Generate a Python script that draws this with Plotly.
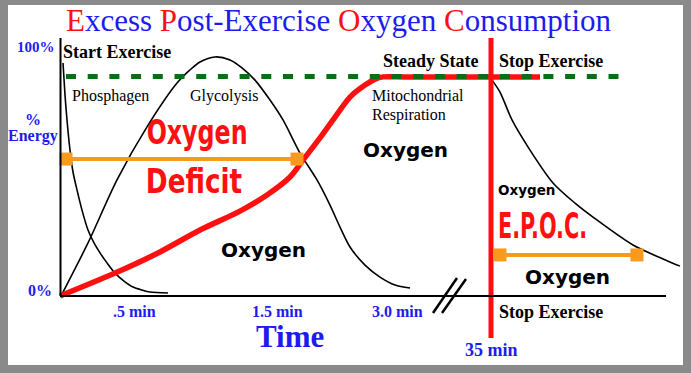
import plotly.graph_objects as go

# ---------------- data (x = schematic time position, y = % energy) ----------------
PHOS_X = [3, 5, 7, 10, 13, 17, 22, 28, 34, 40, 47, 55, 64, 73, 82, 90, 108]
PHOS_Y = [93.6, 80.7, 70.7, 58.6, 49.8, 42.6, 34.5, 26.5, 21.3, 17.3, 13.3, 9.2, 6.0, 3.6, 2.4, 1.6, 1.2]

GLY_X = [2, 28, 57, 87, 117, 130, 140, 155, 170, 182, 195, 210, 223, 240, 257, 270, 280, 290, 305, 320, 335, 350]
GLY_Y = [0.8, 21.3, 46.6, 67.9, 85.5, 90.8, 94.0, 96.0, 94.8, 91.6, 86.7, 78.7, 70.7, 57.4, 46.6, 36.5, 27.7, 19.7, 12.4, 7.6, 4.4, 3.2]

O2_X = [0, 55, 100, 140, 180, 207, 230, 243, 260, 273, 290, 305, 315, 323, 345, 480]
O2_Y = [0, 9.2, 17.7, 26.5, 34.1, 40.6, 47.8, 54.6, 63.5, 70.7, 79.9, 84.7, 87.1, 88.0, 88.0, 88.0]

EPOC_X = [432, 440, 452, 470, 493, 515, 533, 573, 603, 620]
EPOC_Y = [86.7, 81.9, 70.7, 58.6, 45.4, 37.3, 31.7, 20.5, 14.9, 12.0]

STEADY_X = [6, 567]
STEADY_Y = [88.2, 88.2]

DEFICIT_X = [6, 237]
DEFICIT_Y = [55.0, 55.0]
EPOCBAR_X = [440, 577]
EPOCBAR_Y = [16.5, 16.5]

STOP_X = [431, 431]
STOP_Y = [103.6, -16.9]

XAXIS_X = [0, 606]
XAXIS_Y = [0, 0]
YAXIS_X = [0.5, 0.5]
YAXIS_Y = [0, 103.6]

BREAK1_X = [373, 397]
BREAK1_Y = [-6.8, 7.2]
BREAK2_X = [382, 406]
BREAK2_Y = [-6.8, 6.8]

TICK_X = [74, 217, 337, 431]
TICK_LABELS = [".5 min", "1.5 min", "3.0 min", "35 min"]

# ---------------- helpers for placing text ----------------
def PX(px):
    return px - 60

def PY(py):
    return (296 - py) / 2.49

BLUE = "#1c1cf0"
RED = "#ff1010"
ORANGE = "#f99a1c"
GREEN = "#0a6e14"
SERIF = "Liberation Serif, Times New Roman, serif"
HEAVY = "DejaVu Sans, Arial Black, sans-serif"
NARROW = "DejaVu Sans Condensed, DejaVu Sans, sans-serif"

fig = go.Figure()

def line(x, y, color, width, dash=None, shape="linear"):
    fig.add_trace(go.Scatter(x=x, y=y, mode="lines",
                             line=dict(color=color, width=width, dash=dash, shape=shape, smoothing=0.8),
                             hoverinfo="skip", showlegend=False))

line(PHOS_X, PHOS_Y, "black", 1.6, shape="spline")
line(GLY_X, GLY_Y, "black", 1.6, shape="spline")
line(O2_X, O2_Y, RED, 5.5, shape="spline")
line(STEADY_X, STEADY_Y, GREEN, 5, dash="10px,11.7px")
line(EPOC_X, EPOC_Y, "black", 1.6, shape="spline")
line(STOP_X, STOP_Y, RED, 5)

for bx, by in [(DEFICIT_X, DEFICIT_Y), (EPOCBAR_X, EPOCBAR_Y)]:
    fig.add_trace(go.Scatter(x=bx, y=by, mode="lines+markers",
                             line=dict(color=ORANGE, width=4),
                             marker=dict(symbol="square", size=13, color=ORANGE, line=dict(width=0)),
                             hoverinfo="skip", showlegend=False))

line(XAXIS_X, XAXIS_Y, "black", 2)
line(YAXIS_X, YAXIS_Y, "black", 2)
line(BREAK1_X, BREAK1_Y, "black", 2.5)
line(BREAK2_X, BREAK2_Y, "black", 2.5)

ann = []

def text(t, px, py, size, color="black", family=SERIF, bold=False, xanchor="center"):
    ann.append(dict(x=PX(px), y=PY(py), xref="x", yref="y", text=(f"<b>{t}</b>" if bold else t),
                    showarrow=False, xanchor=xanchor, yanchor="middle",
                    font=dict(size=size, color=color, family=family)))

# title
title = ("<span style='color:%s'>E</span>xcess <span style='color:%s'>P</span>ost-Exercise "
         "<span style='color:%s'>O</span>xygen <span style='color:%s'>C</span>onsumption") % (RED, RED, RED, RED)
text(title, 339, 20, 31, color=BLUE)

# axis labels
text("100%", 36, 47, 15, BLUE, bold=True)
text("%", 33, 119, 16, BLUE, bold=True)
text("Energy", 33, 136, 16, BLUE, bold=True)
text("0%", 40, 290, 16, BLUE, bold=True)
for tx, tl in zip(TICK_X, TICK_LABELS):
    ypx = 350 if tl == "35 min" else 311
    sz = 18 if tl == "35 min" else 16
    ann.append(dict(x=tx, y=PY(ypx), xref="x", yref="y", text=f"<b>{tl}</b>", showarrow=False,
                    xanchor="center", yanchor="middle", font=dict(size=sz, color=BLUE, family=SERIF)))
text("Time", 290, 336, 31, BLUE, bold=True)

# phase labels
text("Start Exercise", 61, 52, 18, bold=True, xanchor="left")
text("Steady State", 431, 61, 18, bold=True)
text("Stop Exercise", 551, 61, 18, bold=True)
text("Stop Exercise", 551, 312, 18, bold=True)
text("Phosphagen", 110, 96, 16)
text("Glycolysis", 224, 96, 16)
text("Mitochondrial", 370, 95, 16, xanchor="left")
text("Respiration", 370, 115, 16, xanchor="left")

# big labels
text("Oxygen", 197, 132, 33, RED, NARROW, bold=True)
text("Deficit", 194, 181, 34, RED, NARROW, bold=True)
text("E.P.O.C.", 542, 226, 35, RED, NARROW, bold=True)
text("Oxygen", 263, 250, 20, "black", HEAVY, bold=True)
text("Oxygen", 405, 150, 20, "black", HEAVY, bold=True)
text("Oxygen", 526, 190, 13.5, "black", HEAVY, bold=True)
text("Oxygen", 567, 277, 20, "black", HEAVY, bold=True)

fig.update_layout(
    width=691, height=373, autosize=False,
    margin=dict(l=0, r=0, t=0, b=0),
    paper_bgcolor="#8a8a8a", plot_bgcolor="rgba(0,0,0,0)",
    xaxis=dict(range=[PX(0), PX(691)], visible=False, fixedrange=True),
    yaxis=dict(range=[PY(373), PY(0)], visible=False, fixedrange=True),
    annotations=ann,
    shapes=[dict(type="rect", xref="paper", yref="paper", x0=8 / 691, x1=683 / 691,
                 y0=1 - 365 / 373, y1=1 - 5 / 373, fillcolor="white", line=dict(width=0), layer="below")],
)

POST = """
document.body.style.margin = '0';
document.body.style.overflow = 'hidden';
var squeeze = {'OxygenRED': 0.80, 'Deficit': 0.86, 'E.P.O.C.': 0.66};
document.querySelectorAll('text.annotation-text').forEach(function (t) {
  var k = t.textContent;
  if (k === 'Oxygen' && parseFloat(t.style.fontSize) > 30) { k = 'OxygenRED'; }
  if (squeeze[k]) {
    t.style.transformBox = 'fill-box';
    t.style.transformOrigin = 'center';
    t.style.transform = 'scaleX(' + squeeze[k] + ')';
  }
});
"""

fig.write_html("out.html", post_script=POST, config={"displayModeBar": False})
